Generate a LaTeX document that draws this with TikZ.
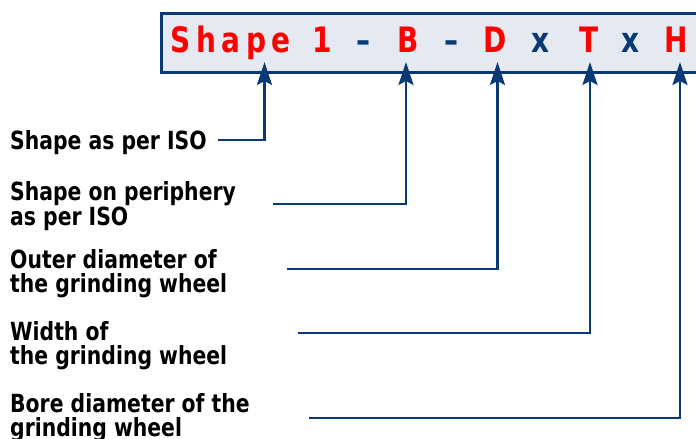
\documentclass[tikz,border=0pt]{standalone}
\usepackage{fontspec}
\setmainfont{DejaVu Sans}
\newfontfamily\lblfam{DejaVu Sans}[FakeStretch=0.815]
\newfontfamily\hdrfam{DejaVu Sans}[FakeStretch=0.8]
\usetikzlibrary{arrows.meta}
\definecolor{navy}{RGB}{10,58,115}
\definecolor{hdrfill}{RGB}{228,233,242}
\definecolor{codered}{RGB}{255,0,0}
\newcommand{\lblfont}{\lblfam\fontsize{25}{23.5}\selectfont\bfseries}
\newcommand{\hdrsize}{\hdrfam\fontsize{35}{35}\selectfont\bfseries}
\begin{document}
\begin{tikzpicture}[x=1pt,y=-1pt,
  conn/.style={draw=navy, line width=2.5pt, -{Stealth[length=23pt,width=15pt,inset=4pt]}},
  lbl/.style={anchor=base west, inner sep=0pt, font=\lblfont, text=black},
  tok/.style={anchor=base, inner sep=0pt, font=\hdrsize},
  redtok/.style={text=codered},
  bluetok/.style={text=navy}]
\useasboundingbox (0,0) rectangle (696,439);
\clip (0,0) rectangle (696,439);
% header box
\node[draw=navy, line width=2.5pt, fill=hdrfill, inner sep=0pt,
      minimum width=560pt, minimum height=59pt, anchor=north west] (hdr) at (160,12) {};
% header tokens
\node[tok, redtok]  (tS) at (230.5,52.5) {\addfontfeatures{LetterSpace=16}Shape};
\node[tok, redtok]  (t1) at (322.7,52.5) {1};
\node[tok, bluetok] (d1) at (363.3,52.5) {–};
\node[tok, redtok]  (tB) at (408,52.5) {B};
\node[tok, bluetok] (d2) at (451.3,52.5) {–};
\node[tok, redtok]  (tD) at (495,52.5) {D};
\node[tok, bluetok] (x1) at (541,52.5) {x};
\node[tok, redtok]  (tT) at (589,52.5) {T};
\node[tok, bluetok] (x2) at (631,52.5) {x};
\node[tok, redtok]  (tH) at (676.5,52.5) {H};
% labels
\node[lbl] (l1) at (10,149) {Shape as per ISO};
\node[lbl] (l2) at (10,200.5) {\vtop{\hbox{Shape on periphery}\hbox{as per ISO}}};
\node[lbl] (l3) at (10,268.5) {\vtop{\hbox{Outer diameter of}\hbox{the grinding wheel}}};
\node[lbl] (l4) at (10,340.5) {\vtop{\hbox{Width of}\hbox{the grinding wheel}}};
\node[lbl] (l5) at (10,412.5) {\vtop{\hbox{Bore diameter of the}\hbox{grinding wheel}}};
% connector ends
\coordinate (c1) at (218,140);   \coordinate (a1) at (264.5,62);
\coordinate (c2) at (273,204);   \coordinate (a2) at (406,62);
\coordinate (c3) at (287,269);   \coordinate (a3) at (497.5,62);
\coordinate (c4) at (298,333);   \coordinate (a4) at (590,62);
\coordinate (c5) at (309,418);   \coordinate (a5) at (680,62);
\draw[conn] (c1) -| (a1);
\draw[conn] (c2) -| (a2);
\draw[conn] (c3) -| (a3);
\draw[conn] (c4) -| (a4);
\draw[conn] (c5) -| (a5);
\end{tikzpicture}
\end{document}
